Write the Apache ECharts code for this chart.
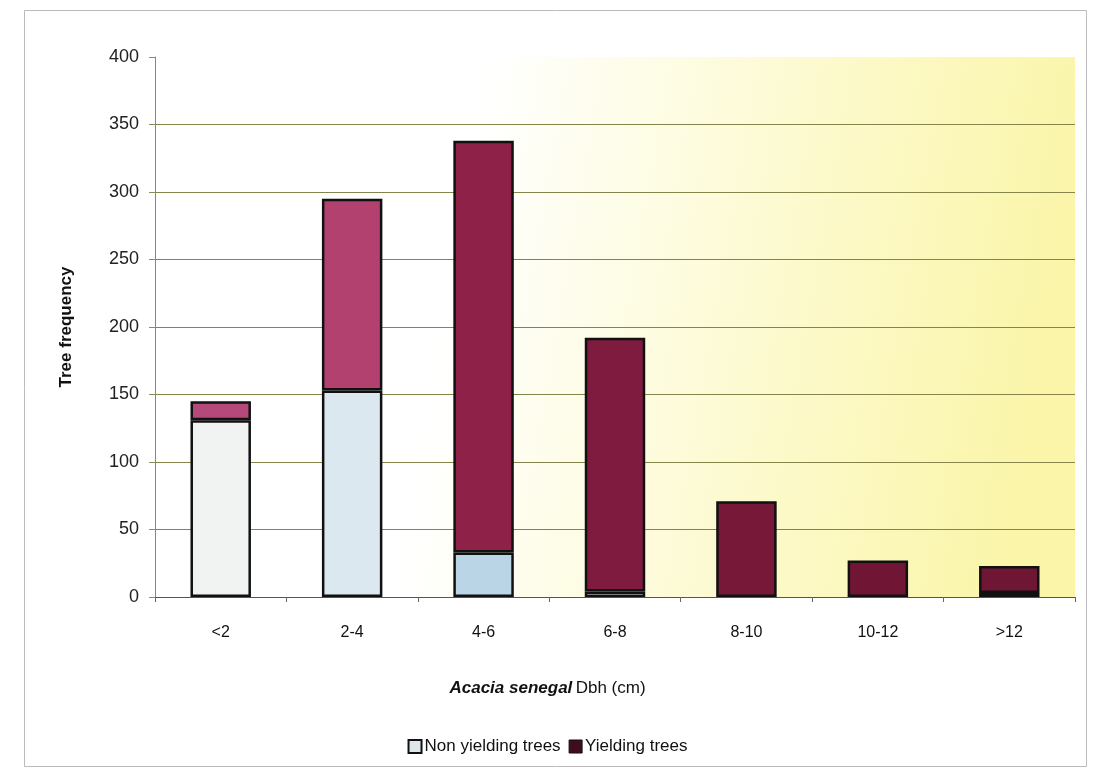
<!DOCTYPE html>
<html>
<head>
<meta charset="utf-8">
<script src="https://cdn.jsdelivr.net/npm/echarts@6/dist/echarts.min.js"></script>
<style>
html,body{margin:0;padding:0;background:#fff;}
#chart{width:1095px;height:774px;}
</style>
</head>
<body>
<div id="chart"></div>
<script>
const categories = ['<2', '2-4', '4-6', '6-8', '8-10', '10-12', '>12'];
const nonYielding = [131, 153, 33, 4, 0, 0, 3];
const yielding = [14, 142, 305, 188, 71, 27, 20];
const yTicks = [0, 50, 100, 150, 200, 250, 300, 350, 400];
const seriesNames = ['Non yielding trees', 'Yielding trees'];

const yieldColors = ['#b5497a', '#b2416f', '#8e2148', '#7f1b3e', '#771838', '#701634', '#6e1633'];
const nonColors = ['#f1f3f3', '#dbe8ef', '#b9d5e6', '#e8eef2', '#e8eef2', '#e8eef2', '#8a9ab8'];
const gridColors = ['#85844a', '#85844a', '#85844a', '#85844a', '#85844a', '#85844a', '#85844a', '#85844a', 'rgba(0,0,0,0)'];

const chart = echarts.init(document.getElementById('chart'));
chart.setOption({
  animation: false,
  backgroundColor: '#ffffff',
  textStyle: { fontFamily: 'Liberation Sans, Arial, sans-serif', color: '#111' },
  grid: {
    left: 155, top: 57, width: 920, height: 540,
    show: true, borderWidth: 0,
    backgroundColor: new echarts.graphic.LinearGradient(0, 0, 1, 0.3, [
      { offset: 0, color: '#ffffff' },
      { offset: 0.35, color: '#ffffff' },
      { offset: 0.75, color: '#fcf9c8' },
      { offset: 1, color: '#faf5a8' }
    ])
  },
  legend: {
    bottom: 14, left: 'center',
    itemWidth: 13, itemHeight: 13, itemGap: 8,
    icon: 'rect',
    textStyle: { fontSize: 17, color: '#111', padding: [0, 0, 0, -2] },
    data: [
      { name: seriesNames[0], itemStyle: { color: '#dfe6ea', borderColor: '#111', borderWidth: 2 } },
      { name: seriesNames[1], itemStyle: { color: '#3e0d1e', borderColor: '#111', borderWidth: 1 } }
    ]
  },
  xAxis: {
    type: 'category',
    data: categories,
    axisLine: { show: true, lineStyle: { color: '#555', width: 1 } },
    axisTick: { show: true, length: 5, lineStyle: { color: '#666' } },
    axisLabel: { fontSize: 16, color: '#111', margin: 28 }
  },
  yAxis: {
    type: 'value',
    min: 0, max: 400, interval: 50,
    name: 'Tree frequency',
    nameLocation: 'middle',
    nameGap: 80,
    nameRotate: 90,
    nameTextStyle: { fontSize: 17, fontWeight: 'bold', color: '#111' },
    axisLine: { show: true, lineStyle: { color: '#8c8c5a', width: 1 } },
    axisTick: { show: true, length: 6, lineStyle: { color: '#8c8c5a' } },
    axisLabel: { fontSize: 18, color: '#222', margin: 16,
      formatter: v => yTicks.includes(v) ? String(v) : '' },
    splitLine: { show: true, lineStyle: { color: gridColors, width: 1.2 } }
  },
  series: [
    {
      name: seriesNames[0], type: 'bar', stack: 'total', barWidth: '46%',
      data: nonYielding.map((v, i) => v > 0 ? ({ value: v, itemStyle: { color: nonColors[i] } }) : '-'),
      itemStyle: { borderColor: '#111', borderWidth: 2.5 }
    },
    {
      name: seriesNames[1], type: 'bar', stack: 'total', barWidth: '46%',
      data: yielding.map((v, i) => ({ value: v, itemStyle: { color: yieldColors[i] } })),
      itemStyle: { borderColor: '#111', borderWidth: 2.5 }
    }
  ],
  graphic: [
    {
      type: 'rect', left: 22, top: 8, z: -1,
      shape: { width: 1062, height: 756 },
      style: { fill: 'none', stroke: '#bbbbbb', lineWidth: 1 }
    },
    {
      type: 'text', left: 'center', top: 680,
      style: {
        text: '{i|Acacia senegal} {n|Dbh (cm)}',
        rich: {
          i: { fontSize: 17, fontWeight: 'bold', fontStyle: 'italic', fill: '#111', fontFamily: 'Liberation Sans, Arial, sans-serif' },
          n: { fontSize: 17, fill: '#111', fontFamily: 'Liberation Sans, Arial, sans-serif' }
        }
      }
    }
  ]
});
</script>
</body>
</html>
